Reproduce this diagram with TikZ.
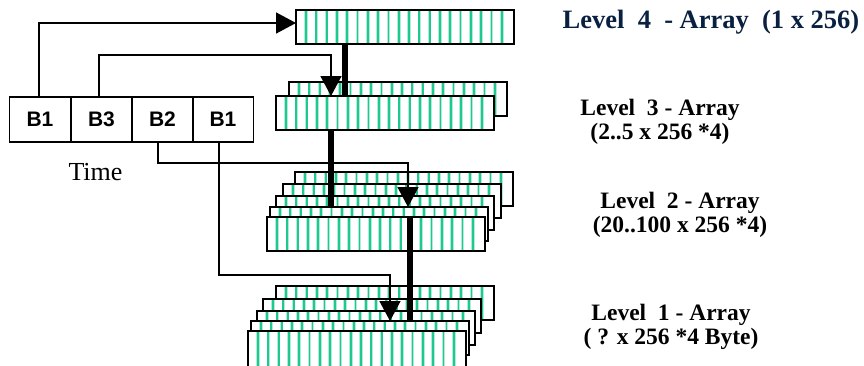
\documentclass[tikz,border=0pt]{standalone}
\usepackage{fontspec}
\setmainfont{Liberation Serif}
\newfontfamily\arialfont{Liberation Sans}
\usetikzlibrary{arrows.meta}
\definecolor{stripecol}{RGB}{30,200,145}
\definecolor{halocol}{RGB}{178,236,214}
\definecolor{navy}{RGB}{10,32,64}
\tikzset{
  plate/.style={draw=black, line width=1.6pt, fill=white,
    minimum width=218pt, minimum height=34pt, inner sep=0pt, outer sep=0pt,
    anchor=north west,
    path picture={
      \foreach \k in {0,...,19}{
        \draw[halocol, line width=3.6pt]
          ([xshift=10pt+\k*10.3pt]path picture bounding box.south west) --
          ([xshift=10pt+\k*10.3pt]path picture bounding box.north west);
        \draw[stripecol, line width=1.8pt]
          ([xshift=10pt+\k*10.3pt]path picture bounding box.south west) --
          ([xshift=10pt+\k*10.3pt]path picture bounding box.north west);
      }}},
  cell/.style={draw, line width=1.6pt, minimum width=61pt, minimum height=45pt,
    inner sep=0pt, font=\arialfont\bfseries\fontsize{21}{24}\selectfont},
  link/.style={line width=1.5pt, -{Triangle[length=20pt,width=21pt]}},
  bar/.style={line width=6.5pt},
  lbl/.style={font=\bfseries\fontsize{23.5}{24}\selectfont, align=center, inner sep=0pt}
}
\begin{document}
\begin{tikzpicture}[x=1pt,y=-1pt]
\useasboundingbox (0,0) rectangle (864,365);
\clip (0,0) rectangle (864,365);

% Level 4
\node[plate] (l4) at (296,10) {};
% Level 3
\node[plate] (l3a) at (289,82) {};
\node[plate] (l3b) at (276,96) {};
% Level 2
\node[plate] (l2a) at (295,172) {};
\node[plate] (l2b) at (283,184) {};
\node[plate] (l2c) at (276,196) {};
\node[plate] (l2d) at (270,207) {};
\node[plate] (l2e) at (267,217) {};
% Level 1
\node[plate] (l1a) at (276,286) {};
\node[plate] (l1b) at (263,299) {};
\node[plate] (l1c) at (257,311) {};
\node[plate] (l1d) at (251,321) {};
\node[plate, minimum height=37pt] (l1e) at (248,331) {};

% thick bars between levels
\coordinate (bar4) at (345,44);
\coordinate (bar3) at (331,130);
\coordinate (bar2) at (410,217);
\draw[bar] (bar4) -- (bar4 |- l3b.north);
\draw[bar] (bar3) -- (bar3 |- l2d.north);
\draw[bar] (bar2) -- (bar2 |- l1d.north);

% time buffer cells
\node[cell] (c1) at (40,119.5) {B1};
\node[cell] (c2) at (101.5,119.5) {B3};
\node[cell] (c3) at (162.5,119.5) {B2};
\node[cell] (c4) at (223,119.5) {B1};
\node[font=\fontsize{26}{30}\selectfont, anchor=base, inner sep=0pt] (time) at (95.5,180) {Time};

% connectors
\coordinate (t4) at (296,23);
\coordinate (t3) at (331,96);
\coordinate (t2) at (408,207);
\coordinate (t1) at (390,321);
\draw[link] ([xshift=-1pt]c1.north) |- (t4);
\draw[link] ([xshift=-2.5pt]c2.north) -- ++(0,-41) -| (t3);
\draw[link] ([xshift=-4.5pt]c3.south) -- ++(0,20) -| (t2);
\draw[link] ([xshift=-4pt]c4.south) -- ++(0,132) -| (t1);

% labels
\node[lbl, font=\bfseries\fontsize{26.5}{28}\selectfont, text=navy, anchor=base] (lab4) at (711,28) {Level\ \ 4\ \ - Array\ \ (1 x 256)};
\node[lbl] (lab3) at (660,121.5) {Level\ \ 3 - Array\\(2..5 x 256 *4)};
\node[lbl] (lab2) at (680,214.5) {Level\ \ 2 - Array\\(20..100 x 256 *4)};
\node[lbl] (lab1) at (671,326.5) {Level\ \ 1 - Array\\( ? x 256 *4 Byte)};
\end{tikzpicture}
\end{document}
